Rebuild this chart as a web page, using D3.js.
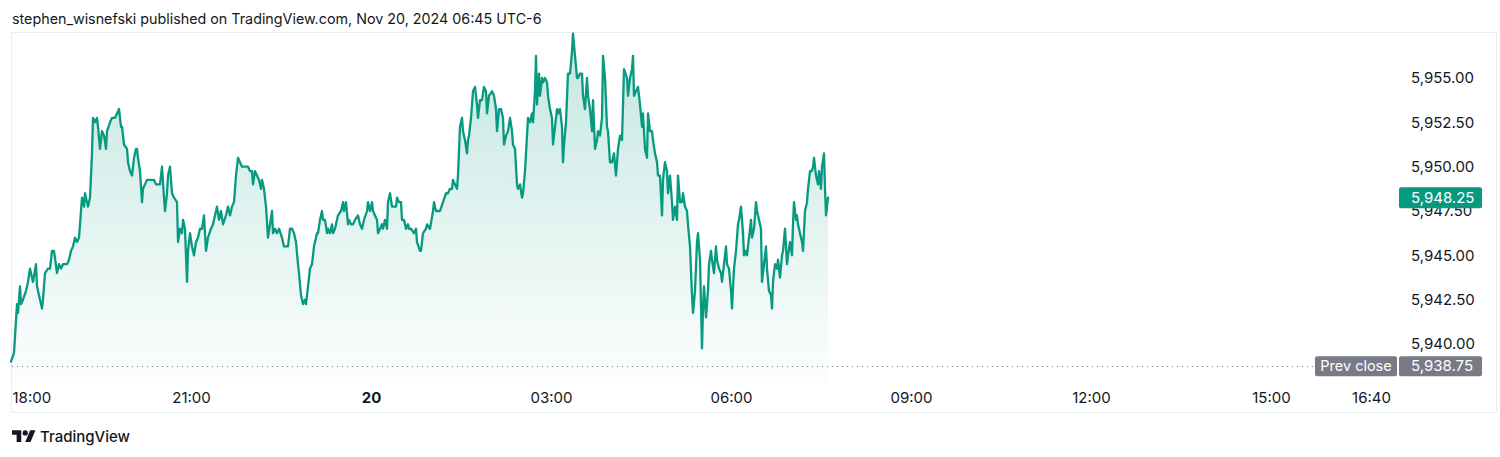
<!DOCTYPE html>
<html>
<head>
<meta charset="utf-8">
<script src="https://cdn.jsdelivr.net/npm/d3@7"></script>
<style>
  html, body { margin: 0; padding: 0; background: #ffffff; }
  svg { display: block; }
  text { font-family: Inter, "Noto Sans", Roboto, sans-serif; }
</style>
</head>
<body>
<svg id="chart" width="1500" height="457"></svg>
<script>
// ---- data (minutes after 18:00 on Nov 19, price) ----
const minutes = [0,3,6,7,9,10,12,15,17,19,21,22,25,26,28,31,32,34,37,39,41,43,46,48,50,52,56,58,60,62,64,66,68,70,71,73,74,76,77,79,81,82,84,86,87,89,91,93,95,96,99,101,104,106,108,110,111,113,116,117,119,121,123,125,126,127,129,131,132,134,136,138,141,143,145,147,149,151,153,154,156,157,159,161,163,166,167,169,171,172,174,176,177,179,181,183,185,187,189,191,193,195,197,200,202,206,208,210,212,215,217,219,221,223,225,227,229,231,234,237,239,241,242,244,246,248,250,251,253,255,257,259,261,262,264,266,268,271,273,276,277,279,281,283,285,287,288,290,292,294,295,297,299,301,303,306,307,309,311,312,314,316,317,319,321,322,324,326,327,330,332,333,335,337,338,340,342,344,347,349,351,353,356,357,359,361,362,364,366,367,369,371,372,374,376,377,379,381,382,385,386,388,390,391,393,395,397,398,400,403,405,406,409,410,412,415,416,419,422,423,425,427,429,432,435,437,439,441,442,444,446,447,449,451,452,454,456,457,458,460,462,464,466,467,469,471,473,475,476,478,481,483,485,486,488,490,492,493,495,497,499,501,502,504,506,507,509,511,512,514,516,517,519,521,522,524,525,526,528,529,531,532,534,536,537,539,541,542,544,546,547,549,551,552,553,555,557,559,561,562,564,566,567,569,571,572,574,576,577,579,581,582,584,586,587,589,591,592,594,596,597,599,601,603,605,607,609,611,613,616,617,619,621,622,623,625,627,629,631,632,634,636,637,639,641,642,644,646,647,649,651,652,654,656,657,659,661,662,664,666,667,669,671,672,674,676,677,679,681,682,684,686,687,689,691,692,693,695,697,698,700,701,703,705,706,708,710,711,713,715,716,718,720,721,723,725,727,728,730,732,733,735,736,738,740,741,743,745,746,748,750,751,753,755,756,758,760,761,762,764,766,767,769,771,772,774,776,777,779,781,782,783,785,786,787,789,791,792,794,796,797,799,801,802,803,805,807,808,810,811,813,814,815,817];
const prices = [5939.00,5939.50,5942.25,5941.75,5943.25,5942.25,5942.50,5943.00,5943.50,5944.25,5943.75,5943.50,5944.50,5943.25,5942.75,5942.00,5942.50,5944.00,5944.25,5944.25,5945.25,5945.25,5944.00,5944.50,5944.25,5944.50,5944.50,5944.75,5945.25,5945.50,5946.00,5945.75,5946.00,5947.50,5948.25,5947.75,5948.50,5948.00,5947.75,5948.25,5950.75,5952.75,5952.50,5952.75,5952.25,5951.00,5952.00,5951.75,5951.00,5952.00,5952.50,5952.75,5952.75,5953.00,5953.25,5952.25,5952.25,5951.25,5951.00,5950.25,5949.75,5949.50,5950.50,5951.00,5951.00,5950.50,5949.75,5948.00,5948.75,5949.00,5949.25,5949.25,5949.25,5949.25,5949.00,5949.00,5949.00,5950.00,5948.25,5947.50,5948.50,5949.50,5950.00,5948.50,5948.25,5948.00,5945.75,5946.50,5946.25,5947.00,5946.50,5943.50,5945.25,5946.25,5945.50,5945.00,5945.75,5946.00,5946.50,5946.50,5947.25,5945.25,5946.00,5946.50,5946.75,5947.75,5947.00,5947.50,5946.75,5947.25,5947.75,5947.25,5947.75,5948.00,5949.50,5950.50,5950.25,5950.00,5950.00,5950.00,5949.75,5949.75,5949.00,5949.75,5949.50,5949.25,5948.75,5949.25,5948.75,5947.75,5946.00,5946.75,5947.50,5946.25,5946.50,5946.25,5946.50,5946.00,5945.50,5945.50,5945.50,5946.50,5946.50,5946.25,5945.75,5944.50,5944.00,5942.75,5942.25,5942.50,5942.25,5943.25,5944.25,5944.50,5945.50,5946.25,5946.25,5947.00,5947.50,5947.00,5947.00,5946.25,5946.50,5946.25,5946.75,5946.25,5946.50,5947.00,5947.25,5947.50,5948.00,5947.50,5948.00,5946.75,5947.00,5946.75,5946.75,5947.00,5947.25,5946.75,5946.50,5947.00,5947.50,5948.00,5947.50,5948.00,5947.50,5947.25,5947.00,5946.25,5946.50,5946.75,5946.50,5947.00,5946.50,5948.00,5948.50,5947.75,5947.75,5947.75,5948.25,5948.00,5948.00,5947.00,5947.00,5946.50,5946.75,5946.50,5946.50,5946.25,5946.50,5945.75,5945.25,5945.25,5946.25,5946.50,5946.75,5946.50,5947.50,5948.00,5947.50,5947.50,5947.50,5948.00,5948.50,5948.50,5948.75,5948.75,5949.25,5949.00,5948.75,5949.50,5952.25,5952.75,5952.00,5951.50,5950.75,5951.50,5951.75,5952.75,5954.25,5954.50,5953.50,5952.75,5953.75,5953.75,5954.50,5954.25,5953.00,5954.00,5954.25,5954.00,5953.25,5952.00,5953.25,5953.25,5952.75,5951.25,5951.75,5952.00,5952.75,5952.00,5951.25,5951.00,5949.00,5948.75,5949.00,5948.25,5948.50,5949.75,5951.75,5952.75,5952.50,5953.00,5952.50,5954.25,5956.25,5953.50,5955.25,5954.00,5955.00,5954.75,5955.00,5954.75,5954.00,5953.25,5952.75,5951.25,5952.25,5953.25,5953.00,5953.25,5952.25,5950.25,5951.25,5952.50,5955.25,5955.25,5956.50,5957.50,5956.25,5955.00,5955.00,5955.25,5955.25,5954.00,5953.25,5955.00,5954.00,5953.25,5952.00,5953.75,5951.00,5951.50,5952.00,5951.75,5952.75,5956.25,5955.00,5952.25,5952.00,5950.25,5950.25,5950.75,5949.50,5951.00,5951.75,5951.50,5955.50,5955.00,5954.00,5955.00,5955.50,5956.25,5954.00,5954.25,5954.50,5953.50,5952.25,5953.00,5951.00,5950.50,5953.00,5952.00,5952.00,5951.50,5950.75,5950.25,5949.50,5949.50,5947.25,5949.25,5950.25,5949.75,5948.50,5949.50,5948.00,5947.00,5947.75,5947.00,5949.50,5948.00,5948.00,5948.50,5947.75,5947.50,5946.75,5945.50,5942.75,5941.75,5943.00,5945.75,5946.25,5944.75,5939.75,5942.00,5943.25,5941.50,5943.00,5944.50,5945.25,5944.75,5944.00,5945.50,5944.75,5944.25,5944.00,5943.50,5944.50,5945.50,5944.50,5944.25,5943.00,5942.00,5944.25,5945.25,5946.75,5947.00,5947.75,5946.25,5945.00,5945.25,5945.00,5946.00,5947.00,5946.00,5946.50,5948.00,5947.50,5947.00,5946.50,5943.50,5944.50,5945.50,5944.25,5943.00,5942.75,5942.00,5943.50,5944.50,5944.25,5944.75,5943.75,5945.00,5945.25,5946.50,5944.50,5945.00,5945.75,5945.00,5946.75,5948.00,5947.00,5947.25,5946.75,5946.25,5945.75,5945.25,5947.50,5948.00,5948.75,5949.75,5949.75,5950.00,5950.50,5949.50,5949.00,5949.75,5948.75,5950.00,5950.75,5948.75,5947.25,5948.25];
const prevClose = 5938.75;
const priceTicks = [5940.00, 5942.50, 5945.00, 5947.50, 5950.00, 5952.50, 5955.00];
const timeTickOffsets = [0, 180, 360, 540, 720, 900, 1080, 1260, 1360];
const timeTickLabels = ["18:00", "21:00", "20", "03:00", "06:00", "09:00", "12:00", "15:00", "16:40"];
const headerText = "stephen_wisnefski published on TradingView.com, Nov 20, 2024 06:45 UTC-6";

// ---- layout ----
const GREEN = "#089981";
const GREY = "#787b86";
const TXT = "#131722";
const svg = d3.select("#chart");

const x = d3.scaleLinear().domain([0, 1388]).range([11, 1399]);
const y = d3.scaleLinear().domain([5940, 5955]).range([344, 78]);
const paneBottom = 384;

const data = minutes.map((m, i) => ({ m, p: prices[i] }));

// header
svg.append("text").attr("x", 12).attr("y", 24)
  .attr("font-size", 14.3).attr("fill", TXT).text(headerText);

// frame
svg.append("rect").attr("x", 11.5).attr("y", 32.5).attr("width", 1485).attr("height", 380)
  .attr("fill", "none").attr("stroke", "#e3f0ed").attr("stroke-width", 1);

// gradient
const defs = svg.append("defs");
const grad = defs.append("linearGradient").attr("id", "areaGrad")
  .attr("gradientUnits", "userSpaceOnUse")
  .attr("x1", 0).attr("x2", 0).attr("y1", y(5957.5)).attr("y2", paneBottom);
grad.append("stop").attr("offset", "0%").attr("stop-color", GREEN).attr("stop-opacity", 0.24);
grad.append("stop").attr("offset", "100%").attr("stop-color", GREEN).attr("stop-opacity", 0.01);

// area
const area = d3.area().x(d => x(d.m)).y0(paneBottom).y1(d => y(d.p));
svg.append("path").datum(data).attr("d", area).attr("fill", "url(#areaGrad)");

// prev close dotted line
svg.append("line")
  .attr("x1", 12).attr("x2", 1315)
  .attr("y1", Math.round(y(prevClose)) + 0.5).attr("y2", Math.round(y(prevClose)) + 0.5)
  .attr("stroke", GREY).attr("stroke-width", 1).attr("stroke-dasharray", "1 4");

// line
const line = d3.line().x(d => x(d.m)).y(d => y(d.p));
svg.append("path").datum(data).attr("d", line)
  .attr("fill", "none").attr("stroke", GREEN).attr("stroke-width", 2.3)
  .attr("stroke-linejoin", "round").attr("stroke-linecap", "round");

// price axis
const yAxis = d3.axisRight(y).tickValues(priceTicks).tickSize(0).tickPadding(12)
  .tickFormat(d3.format(",.2f"));
const gy = svg.append("g").attr("transform", "translate(1399,0)").call(yAxis);
gy.select(".domain").remove();
gy.selectAll("text").attr("font-size", 15).attr("fill", TXT)
  .attr("font-family", "Inter, 'Noto Sans', sans-serif");

// time axis
const xAxis = d3.axisBottom(x).tickValues(timeTickOffsets).tickSize(0).tickPadding(0)
  .tickFormat((d, i) => timeTickLabels[i]);
const gx = svg.append("g").attr("transform", "translate(0,392)").call(xAxis);
gx.select(".domain").remove();
gx.selectAll("text").attr("font-size", 15).attr("fill", TXT)
  .attr("font-family", "Inter, 'Noto Sans', sans-serif")
  .attr("font-weight", (d, i) => timeTickLabels[i] === "20" ? 700 : 400)
  .attr("dy", "0.71em");
gx.selectAll(".tick").filter((d, i) => i === 0).select("text")
  .attr("text-anchor", "start").attr("x", 1);

// last price label
const last = data[data.length - 1];
const ly = y(last.p);
svg.append("rect").attr("x", 1399).attr("y", ly - 10.5).attr("width", 83).attr("height", 21)
  .attr("rx", 2).attr("fill", GREEN);
svg.append("text").attr("x", 1411).attr("y", ly).attr("dy", "0.35em")
  .attr("font-size", 15).attr("fill", "#ffffff").text(d3.format(",.2f")(last.p));

// prev close labels
const py = y(prevClose);
svg.append("rect").attr("x", 1315).attr("y", py - 10).attr("width", 82).attr("height", 20)
  .attr("rx", 2).attr("fill", GREY);
svg.append("text").attr("x", 1356).attr("y", py).attr("dy", "0.35em").attr("text-anchor", "middle")
  .attr("font-size", 14.5).attr("fill", "#ffffff").text("Prev close");
svg.append("rect").attr("x", 1399).attr("y", py - 10).attr("width", 83).attr("height", 20)
  .attr("rx", 2).attr("fill", GREY);
svg.append("text").attr("x", 1411).attr("y", py).attr("dy", "0.35em")
  .attr("font-size", 15).attr("fill", "#ffffff").text(d3.format(",.2f")(prevClose));

// TradingView logo
const logo = svg.append("g").attr("transform", "translate(12,427.6) scale(0.66)").attr("fill", TXT);
logo.append("path").attr("d", "M14 22H7V11H0V4h14v18zM28 22h-8l7.5-18h8L28 22z");
logo.append("circle").attr("cx", 20).attr("cy", 8).attr("r", 4);
svg.append("text").attr("x", 40).attr("y", 442).attr("font-size", 15).attr("fill", TXT)
  .attr("font-weight", 500).text("TradingView");
</script>
</body>
</html>
